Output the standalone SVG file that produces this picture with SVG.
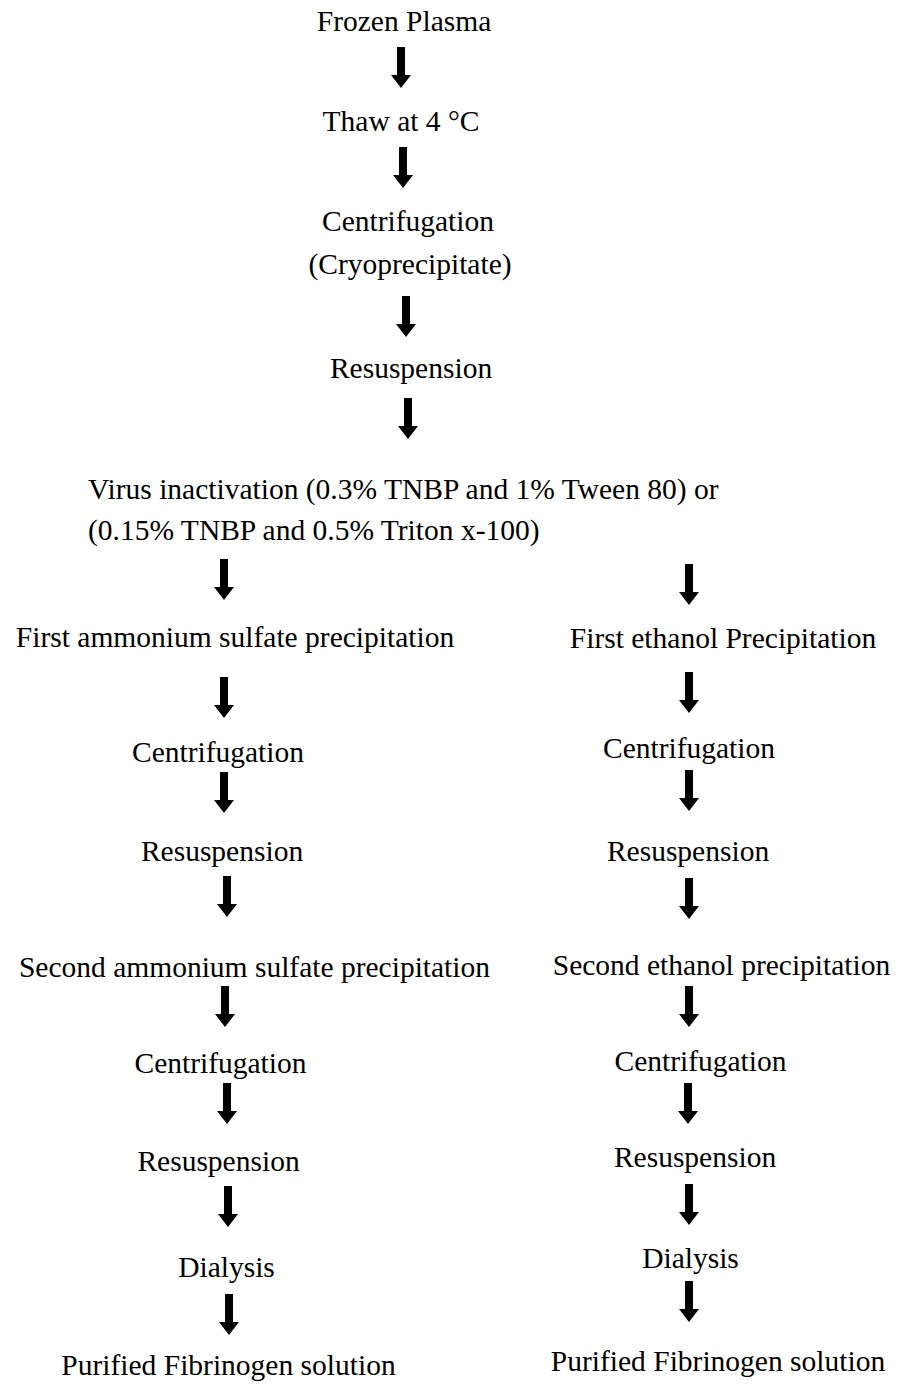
<svg xmlns="http://www.w3.org/2000/svg" xmlns:xlink="http://www.w3.org/1999/xlink" width="911" height="1385" viewBox="0 0 911 1385">
<style>
text{font-family:"Liberation Serif","Times New Roman",serif;font-size:29.5px;fill:#000}
.m{text-anchor:middle}
.arrow{fill:#000}
</style>
<defs>
<path id="arr" d="M-4,0 H4 V28 H10 L0,41 L-10,28 H-4 Z"/>
</defs>
<rect width="911" height="1385" fill="#fff"/>
<g id="connectors" class="arrow">
<use xlink:href="#arr" x="401" y="47"/>
<use xlink:href="#arr" x="403" y="147"/>
<use xlink:href="#arr" x="406" y="296"/>
<use xlink:href="#arr" x="408" y="398"/>
<use xlink:href="#arr" x="224" y="559"/>
<use xlink:href="#arr" x="689" y="564"/>
<use xlink:href="#arr" x="224" y="677"/>
<use xlink:href="#arr" x="689" y="672"/>
<use xlink:href="#arr" x="224" y="772"/>
<use xlink:href="#arr" x="689" y="770"/>
<use xlink:href="#arr" x="227" y="876"/>
<use xlink:href="#arr" x="689" y="878"/>
<use xlink:href="#arr" x="225" y="986"/>
<use xlink:href="#arr" x="689" y="986"/>
<use xlink:href="#arr" x="227" y="1083"/>
<use xlink:href="#arr" x="688" y="1083"/>
<use xlink:href="#arr" x="228" y="1186"/>
<use xlink:href="#arr" x="689" y="1184"/>
<use xlink:href="#arr" x="229" y="1294"/>
<use xlink:href="#arr" x="689" y="1281"/>
</g>
<g id="n-frozen"><text class="m" x="404" y="31">Frozen Plasma</text></g>
<g id="n-thaw"><text class="m" x="401" y="131">Thaw at 4 °C</text></g>
<g id="n-centrifugation"><text class="m" x="408" y="231">Centrifugation</text><text class="m" x="410" y="274">(Cryoprecipitate)</text></g>
<g id="n-resuspension"><text class="m" x="411" y="378">Resuspension</text></g>
<g id="n-virus"><text x="88" y="499">Virus inactivation (0.3% TNBP and 1% Tween 80) or</text><text x="88" y="540">(0.15% TNBP and 0.5% Triton x-100)</text></g>
<g id="n-l1"><text class="m" x="235" y="647">First ammonium sulfate precipitation</text></g>
<g id="n-r1"><text class="m" x="723" y="648">First ethanol Precipitation</text></g>
<g id="n-l2"><text class="m" x="218" y="762">Centrifugation</text></g>
<g id="n-r2"><text class="m" x="689" y="758">Centrifugation</text></g>
<g id="n-l3"><text class="m" x="222" y="861">Resuspension</text></g>
<g id="n-r3"><text class="m" x="688" y="861">Resuspension</text></g>
<g id="n-l4"><text class="m" x="254.5" y="977">Second ammonium sulfate precipitation</text></g>
<g id="n-r4"><text class="m" x="721.5" y="975">Second ethanol precipitation</text></g>
<g id="n-l5"><text class="m" x="220.5" y="1073">Centrifugation</text></g>
<g id="n-r5"><text class="m" x="700.5" y="1071">Centrifugation</text></g>
<g id="n-l6"><text class="m" x="218.5" y="1171">Resuspension</text></g>
<g id="n-r6"><text class="m" x="695" y="1167">Resuspension</text></g>
<g id="n-l7"><text class="m" x="226.5" y="1277">Dialysis</text></g>
<g id="n-r7"><text class="m" x="690.5" y="1268">Dialysis</text></g>
<g id="n-l8"><text class="m" x="228.5" y="1375">Purified Fibrinogen solution</text></g>
<g id="n-r8"><text class="m" x="718" y="1371">Purified Fibrinogen solution</text></g>
</svg>
